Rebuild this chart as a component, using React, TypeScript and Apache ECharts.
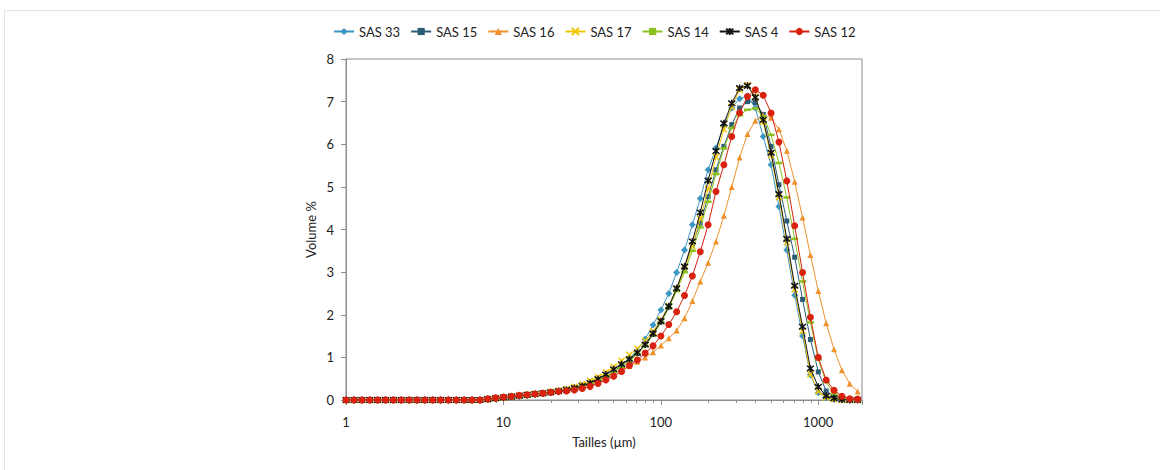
import React, { useEffect, useRef } from 'react';
import * as echarts from 'echarts';

// Particle sizes (µm) of the measurement classes
const sizes = [
  1.002, 1.125, 1.262, 1.416, 1.589, 1.783, 2.0, 2.244, 2.518, 2.825,
  3.17, 3.557, 3.991, 4.477, 5.024, 5.637, 6.325, 7.096, 7.962, 8.934,
  10.024, 11.247, 12.619, 14.159, 15.887, 17.825, 20.0, 22.44, 25.179, 28.251,
  31.698, 35.566, 39.905, 44.774, 50.238, 56.368, 63.246, 70.963, 79.621, 89.337,
  100.237, 112.468, 126.191, 141.589, 158.866, 178.25, 200.0, 224.404, 251.785, 282.508,
  316.979, 355.656, 399.052, 447.744, 502.377, 563.677, 632.456, 709.627, 796.214, 893.367,
  1002.374, 1124.683, 1261.915, 1415.892, 1588.656, 1782.502,
];

const seriesNames = ['SAS 33', 'SAS 15', 'SAS 16', 'SAS 17', 'SAS 14', 'SAS 4', 'SAS 12'];

const sas33 = [
  0, 0, 0, 0, 0, 0, 0, 0, 0, 0, 0, 0, 0, 0, 0, 0, 0,
  0, 0.02, 0.03, 0.05, 0.07, 0.09, 0.11, 0.13, 0.15, 0.17, 0.19, 0.22, 0.26, 0.31,
  0.37, 0.45, 0.55, 0.67, 0.81, 0.98, 1.17, 1.43, 1.76, 2.11, 2.5, 2.99, 3.52, 4.11,
  4.73, 5.4, 5.91, 6.45, 6.85, 7.07, 7.14, 6.85, 6.18, 5.52, 4.54, 3.52, 2.46, 1.5,
  0.59, 0.17, 0.05, 0.01, 0, 0, 0,
];
const sas15 = [
  0, 0, 0, 0, 0, 0, 0, 0, 0, 0, 0, 0, 0, 0, 0, 0, 0,
  0, 0.02, 0.04, 0.05, 0.07, 0.09, 0.11, 0.13, 0.15, 0.17, 0.2, 0.23, 0.27, 0.32,
  0.38, 0.46, 0.55, 0.66, 0.78, 0.92, 1.09, 1.29, 1.54, 1.83, 2.18, 2.6, 3.1, 3.65,
  4.15, 4.77, 5.4, 5.95, 6.46, 6.85, 7.0, 6.98, 6.7, 5.95, 5.05, 4.2, 3.35, 2.36,
  1.42, 0.66, 0.21, 0.07, 0.02, 0, 0,
];
const sas16 = [
  0, 0, 0, 0, 0, 0, 0, 0, 0, 0, 0, 0, 0, 0, 0, 0, 0,
  0, 0.02, 0.04, 0.06, 0.08, 0.1, 0.12, 0.14, 0.16, 0.18, 0.21, 0.24, 0.27, 0.3,
  0.36, 0.44, 0.53, 0.62, 0.71, 0.8, 0.9, 1.0, 1.12, 1.28, 1.45, 1.63, 1.92, 2.32,
  2.78, 3.22, 3.72, 4.32, 5.0, 5.69, 6.24, 6.55, 6.68, 6.62, 6.35, 5.85, 5.12, 4.28,
  3.4, 2.56, 1.8, 1.19, 0.7, 0.38, 0.2,
];
const sas17 = [
  0, 0, 0, 0, 0, 0, 0, 0, 0, 0, 0, 0, 0, 0, 0, 0, 0,
  0, 0.02, 0.04, 0.06, 0.08, 0.1, 0.12, 0.14, 0.16, 0.19, 0.22, 0.26, 0.31, 0.37,
  0.45, 0.54, 0.65, 0.78, 0.92, 1.06, 1.21, 1.39, 1.61, 1.88, 2.2, 2.6, 3.05, 3.62,
  4.25, 4.95, 5.7, 6.35, 6.88, 7.28, 7.39, 7.12, 6.52, 5.74, 4.76, 3.7, 2.6, 1.62,
  0.6, 0.2, 0.06, 0.02, 0, 0, 0,
];
const sas14 = [
  0, 0, 0, 0, 0, 0, 0, 0, 0, 0, 0, 0, 0, 0, 0, 0, 0,
  0, 0.02, 0.04, 0.05, 0.07, 0.09, 0.11, 0.13, 0.15, 0.17, 0.2, 0.23, 0.27, 0.32,
  0.38, 0.46, 0.55, 0.66, 0.78, 0.92, 1.08, 1.27, 1.52, 1.82, 2.16, 2.56, 3.0, 3.5,
  4.05, 4.65, 5.3, 5.9, 6.38, 6.68, 6.81, 6.84, 6.65, 6.22, 5.56, 4.75, 3.78, 2.78,
  1.82, 0.95, 0.42, 0.15, 0.04, 0, 0,
];
const sas4 = [
  0, 0, 0, 0, 0, 0, 0, 0, 0, 0, 0, 0, 0, 0, 0, 0, 0,
  0, 0.02, 0.04, 0.06, 0.08, 0.1, 0.12, 0.14, 0.16, 0.18, 0.21, 0.24, 0.28, 0.33,
  0.4, 0.49, 0.6, 0.72, 0.84, 0.96, 1.11, 1.3, 1.56, 1.85, 2.2, 2.62, 3.13, 3.72,
  4.4, 5.15, 5.84, 6.49, 6.96, 7.32, 7.37, 7.1, 6.57, 5.8, 4.83, 3.78, 2.68, 1.72,
  0.74, 0.31, 0.1, 0.04, 0.01, 0, 0,
];
const sas12 = [
  0, 0, 0, 0, 0, 0, 0, 0, 0, 0, 0, 0, 0, 0, 0, 0, 0,
  0, 0.03, 0.05, 0.07, 0.09, 0.11, 0.125, 0.14, 0.16, 0.18, 0.2, 0.21, 0.235, 0.27,
  0.32, 0.39, 0.47, 0.56, 0.67, 0.81, 0.94, 1.1, 1.27, 1.5, 1.77, 2.07, 2.45, 2.91,
  3.48, 4.11, 4.89, 5.52, 6.18, 6.74, 7.12, 7.28, 7.15, 6.73, 6.05, 5.14, 4.09, 2.99,
  1.94, 1.0, 0.47, 0.23, 0.09, 0.03, 0.02,
];

const seriesValues = [sas33, sas15, sas16, sas17, sas14, sas4, sas12];

// Minor tick positions on the logarithmic size axis (µm)
const minorTicks = [
  2, 3, 4, 5, 6, 7, 8, 9,
  20, 30, 40, 50, 60, 70, 80, 90,
  200, 300, 400, 500, 600, 700, 800, 900,
];

const X_MIN = 1;
const X_MAX = 1900;

const colors = ['#3b96c3', '#2d5c77', '#f0922b', '#f5c400', '#8cc21e', '#111111', '#d8220f'];
const symbols: any[] = [
  'diamond',
  'rect',
  'triangle',
  'path://M0,0L10,10M10,0L0,10',
  'rect',
  'path://M0,0L10,10M10,0L0,10M5,-1.5L5,11.5',
  'circle',
];
const symbolSizes: any[] = [7, 5, 6, 6, [7, 2.5], 7, 7];

export default function App() {
  const ref = useRef<HTMLDivElement>(null);

  useEffect(() => {
    if (!ref.current) return;
    const chart = echarts.init(ref.current, undefined, { renderer: 'svg' });
    const font = 'Lato';

    const series = seriesNames.map((name, i) => {
      const isPath = typeof symbols[i] === 'string' && symbols[i].startsWith('path://');
      return {
        name,
        type: 'line',
        xAxisIndex: 0,
        yAxisIndex: 0,
        data: sizes.map((s, k) => [s, seriesValues[i][k]]),
        symbol: symbols[i],
        symbolSize: symbolSizes[i],
        showSymbol: true,
        lineStyle: { color: colors[i], width: 1 },
        itemStyle: isPath
          ? { color: colors[i], borderColor: colors[i], borderWidth: 1.5 }
          : { color: colors[i], borderWidth: 0 },
        emphasis: { disabled: true },
        z: 2 + i,
      };
    });

    chart.setOption({
      animation: false,
      backgroundColor: '#ffffff',
      textStyle: { fontFamily: font },
      graphic: [
        {
          type: 'rect',
          shape: { x: 4.5, y: 10.5, width: 1200, height: 520 },
          style: { fill: 'none', stroke: '#e6e6d8', lineWidth: 1 },
          silent: true,
        },
      ],
      legend: {
        data: seriesNames,
        left: 333,
        top: 25,
        padding: 0,
        itemWidth: 20,
        itemHeight: 9,
        itemGap: 10,
        textStyle: { fontFamily: font, fontSize: 13, color: '#222' },
      },
      grid: {
        left: 346,
        top: 59,
        width: 516,
        height: 341,
        show: true,
        borderColor: '#8c8c8c',
        borderWidth: 1,
        containLabel: false,
      },
      xAxis: [
        {
          type: 'log',
          logBase: 10,
          min: X_MIN,
          max: X_MAX,
          name: 'Tailles (µm)',
          nameLocation: 'middle',
          nameGap: 35,
          nameTextStyle: { fontFamily: font, fontSize: 13, color: '#222' },
          axisLine: { show: true, lineStyle: { color: '#8c8c8c', width: 1 } },
          axisTick: { show: true, inside: false, length: 5, lineStyle: { color: '#8c8c8c' } },
          axisLabel: {
            fontFamily: font,
            fontSize: 13,
            color: '#222',
            margin: 15,
            formatter: (v: number) => {
              const l = Math.log10(v);
              return Math.abs(l - Math.round(l)) < 1e-6 ? String(Math.round(v)) : '';
            },
          },
          splitLine: { show: false },
        },
        {
          type: 'value',
          min: Math.log10(X_MIN),
          max: Math.log10(X_MAX),
          position: 'bottom',
          axisLine: { show: false },
          axisLabel: { show: false },
          splitLine: { show: false },
          axisTick: {
            show: true,
            inside: false,
            length: 3,
            customValues: minorTicks.map((t) => Math.log10(t)),
            lineStyle: { color: '#8c8c8c' },
          },
        },
      ],
      yAxis: {
        type: 'value',
        min: 0,
        max: 8,
        interval: 1,
        name: 'Volume %',
        nameLocation: 'middle',
        nameGap: 29,
        nameTextStyle: { fontFamily: font, fontSize: 13, color: '#222' },
        axisLine: { show: true, lineStyle: { color: '#8c8c8c', width: 1 } },
        axisTick: { show: true, inside: false, length: 5, lineStyle: { color: '#8c8c8c' } },
        axisLabel: { fontFamily: font, fontSize: 13, color: '#222', margin: 12 },
        splitLine: { show: false },
      },
      series,
    });

    return () => chart.dispose();
  }, []);

  return (
    <div
      ref={ref}
      style={{ position: 'absolute', left: 0, top: 0, width: 1160, height: 470, background: '#fff' }}
    />
  );
}
